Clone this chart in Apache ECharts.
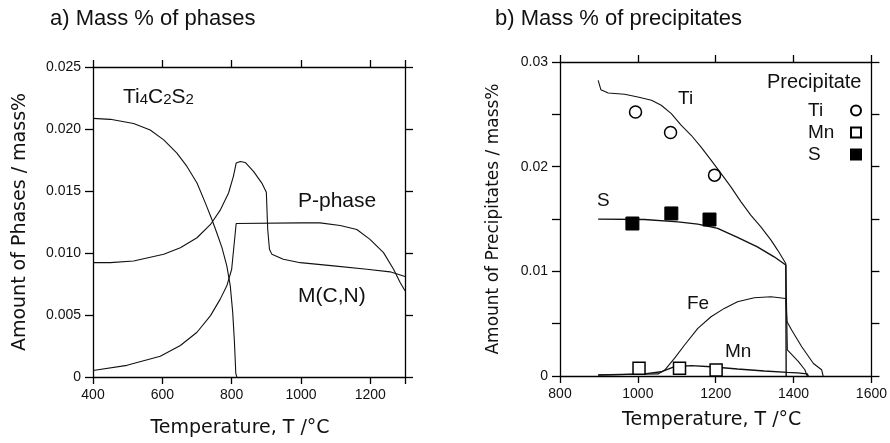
<!DOCTYPE html>
<html>
<head>
<meta charset="utf-8">
<title>Mass % of phases / precipitates</title>
<script src="https://cdn.jsdelivr.net/npm/echarts@6/dist/echarts.min.js"></script>
<style>
html, body { margin: 0; padding: 0; background: #fff; }
#chart { width: 890px; height: 443px; }
</style>
</head>
<body>
<div id="chart"></div>
<script>
// a) phases  [T (C), mass%]
const ti4c2s2 = [[400, 0.02086], [450, 0.02078], [517, 0.02045], [565, 0.01992], [604, 0.01912], [642, 0.01805],
  [671, 0.01698], [700, 0.01564], [724, 0.01404], [743, 0.0127], [757, 0.01163], [772, 0.01043], [786, 0.00896],
  [796, 0.00735], [803, 0.00521], [808, 0.00281], [812, 0.00027], [815, 0]]
const pPhase = [[400, 0.00922], [450, 0.00922], [517, 0.00936], [604, 0.0099], [652, 0.01043], [700, 0.01123],
  [739, 0.0123], [768, 0.0135], [791, 0.01484], [805, 0.01618], [813, 0.01725], [825, 0.01738], [839, 0.0173],
  [863, 0.01658], [887, 0.01564], [900, 0.01489], [904, 0.0119], [909, 0.0103], [916, 0.00989], [949, 0.00949],
  [998, 0.00922], [1094, 0.00896], [1190, 0.00869], [1257, 0.00848], [1300, 0.0081]]
const mcn = [[400, 0.00053], [498, 0.00094], [594, 0.00168], [652, 0.00254], [700, 0.00361], [739, 0.00495],
  [767, 0.00628], [786, 0.00735], [800, 0.00869], [813, 0.01238], [998, 0.01243], [1055, 0.01243], [1113, 0.01222],
  [1161, 0.0119], [1199, 0.0111], [1238, 0.01003], [1267, 0.00869], [1286, 0.00762], [1300, 0.00695]]

// b) precipitates, calculated
const tiCalc = [[898, 0.02825], [905, 0.02736], [924, 0.02704], [966, 0.02692], [1000, 0.02666], [1035, 0.02634],
  [1060, 0.02587], [1086, 0.02507], [1111, 0.02396], [1137, 0.023], [1162, 0.02189], [1188, 0.02062], [1214, 0.01934],
  [1239, 0.01807], [1265, 0.01664], [1290, 0.01537], [1316, 0.01425], [1342, 0.01298], [1359, 0.01203],
  [1380, 0.01075], [1384, 0.0025], [1412, 0.0014], [1429, 0.0006], [1435, 0]]
const sCalc = [[898, 0.01499], [1017, 0.01495], [1103, 0.01473], [1154, 0.01451], [1205, 0.0141], [1256, 0.01324],
  [1307, 0.01234], [1350, 0.01139], [1380, 0.0106], [1381, 0]]
const feCalc = [[898, 0.0001], [1052, 0.0002], [1069, 0.00057], [1094, 0.00169], [1120, 0.00296], [1154, 0.00455],
  [1188, 0.00566], [1222, 0.00646], [1256, 0.0071], [1299, 0.00748], [1342, 0.00757], [1380, 0.00741],
  [1383, 0.0052], [1395, 0.0044], [1421, 0.0028], [1451, 0.0012], [1472, 0.0006], [1476, 0]]
const mnCalc = [[898, 0.0001], [1017, 0.0002], [1060, 0.0004], [1094, 0.00089], [1137, 0.00099], [1188, 0.00089],
  [1256, 0.00067], [1325, 0.00048], [1384, 0.00035], [1410, 0.0003], [1435, 0.0002], [1438, 0]]

// b) measured
const tiMeas = [[994, 0.02523], [1084, 0.02326], [1197, 0.01919]]
const mnMeas = [[1003, 0.00073], [1107, 0.00073], [1201, 0.00057]]
const sMeas = [[986, 0.01457], [1086, 0.01553], [1184, 0.01495]]

const chart = echarts.init(document.getElementById('chart'))

const ink = '#111'
const txt = { fontFamily: 'Liberation Sans, Arial, sans-serif', color: ink }

function xAx(grid, min, max, pos, name, nameGap, fmt, namePad) {
  return {
    gridIndex: grid, type: 'value', min: min, max: max, interval: 200, position: pos,
    axisLine: { show: true, onZero: false, lineStyle: { color: '#000', width: 1.3 } },
    axisTick: { show: true, inside: false, length: 7, lineStyle: { color: '#000', width: 1.3 } },
    axisLabel: { show: pos === 'bottom', margin: 11, fontSize: 14, fontFamily: txt.fontFamily, color: ink, formatter: fmt },
    splitLine: { show: false },
    name: pos === 'bottom' ? name : '',
    nameLocation: 'middle', nameGap: nameGap,
    nameTextStyle: { fontSize: 19, fontFamily: 'DejaVu Sans, sans-serif', color: ink, padding: namePad || 0 }
  }
}

function yAx(grid, max, pos, name, nameGap, nameSize, fmt) {
  return {
    gridIndex: grid, type: 'value', min: 0, max: max, interval: 0.005, position: pos,
    axisLine: { show: true, onZero: false, lineStyle: { color: '#000', width: 1.3 } },
    axisTick: { show: true, inside: false, length: 8, lineStyle: { color: '#000', width: 1.3 } },
    axisLabel: { show: pos === 'left', margin: 12, fontSize: 14, fontFamily: txt.fontFamily, color: ink, formatter: fmt },
    splitLine: { show: false },
    name: pos === 'left' ? name : '',
    nameLocation: 'middle', nameGap: nameGap, nameRotate: 90,
    nameTextStyle: { fontSize: nameSize, fontFamily: 'DejaVu Sans, sans-serif', color: ink }
  }
}

const fmtXa = v => (v === 1300 ? '' : String(v))
const fmtXb = v => String(v)
const fmtYa = v => (v === 0 ? '0' : v.toFixed(3))
const fmtYb = v => {
  const k = Math.round(v * 1000)
  if (k % 10 !== 0) return ''
  return k === 0 ? '0' : (k / 1000).toFixed(2)
}

function line(name, data, xi, yi, w) {
  return {
    name: name, type: 'line', data: data, xAxisIndex: xi, yAxisIndex: yi,
    symbol: 'none', smooth: false, silent: true,
    lineStyle: { color: ink, width: w || 1.1 }
  }
}

function label(text, left, top, size) {
  return { text: text, left: left, top: top, padding: 0, textStyle: Object.assign({ fontSize: size || 21, fontWeight: 'normal' }, txt) }
}

const option = {
  backgroundColor: '#fff',
  animation: false,
  title: [
    label('a) Mass % of phases', 50, 8, 22),
    label('b) Mass % of precipitates', 495, 8, 22),
    {
      text: 'Ti{s|4}C{s|2}S{s|2}', left: 123, top: 87, padding: 0,
      textStyle: Object.assign({ fontSize: 21, fontWeight: 'normal', rich: { s: Object.assign({ fontSize: 15, padding: [4, 0, 0, 0] }, txt) } }, txt)
    },
    label('P-phase', 298, 191),
    label('M(C,N)', 298, 286),
    label('Ti', 678, 89, 19),
    label('S', 597, 191, 19),
    label('Fe', 687, 294, 19),
    label('Mn', 725, 342, 19),
    label('Precipitate', 767, 72, 20)
  ],
  legend: {
    orient: 'vertical', left: 803, top: 96, align: 'right',
    itemWidth: 10, itemHeight: 10, itemGap: 3,
    data: ['Ti', 'Mn', 'S'],
    formatter: name => '{a|' + name + '}',
    textStyle: Object.assign({ fontSize: 19, rich: { a: Object.assign({ fontSize: 19, width: 38, align: 'left' }, txt) } }, txt)
  },
  grid: [
    { left: 93, top: 67, width: 312, height: 311 },
    { left: 560, top: 62, width: 313, height: 314 }
  ],
  xAxis: [
    xAx(0, 400, 1300, 'bottom', 'Temperature, T /°C', 42, fmtXa, [0, 18, 0, 0]),
    xAx(0, 400, 1300, 'top', '', 0, fmtXa),
    xAx(1, 800, 1600, 'bottom', 'Temperature, T /°C', 35, fmtXb, [0, 8, 0, 0]),
    xAx(1, 800, 1600, 'top', '', 0, fmtXb)
  ],
  yAxis: [
    yAx(0, 0.025, 'left', 'Amount of Phases / mass%', 63, 19, fmtYa),
    yAx(0, 0.025, 'right', '', 0, 19, fmtYa),
    yAx(1, 0.03, 'left', 'Amount of Precipitates / mass%', 58, 17, fmtYb),
    yAx(1, 0.03, 'right', '', 0, 17, fmtYb)
  ],
  series: [
    line('Ti4C2S2', ti4c2s2, 0, 0),
    line('P-phase', pPhase, 0, 0),
    line('M(C,N)', mcn, 0, 0),
    line('Ti calc', tiCalc, 2, 2),
    line('S calc', sCalc, 2, 2, 1.4),
    line('Fe calc', feCalc, 2, 2),
    line('Mn calc', mnCalc, 2, 2, 1.4),
    {
      name: 'Ti', type: 'scatter', data: tiMeas, xAxisIndex: 2, yAxisIndex: 2, z: 5,
      symbol: 'circle', symbolSize: 12,
      itemStyle: { color: '#fff', borderColor: '#000', borderWidth: 1.5, opacity: 1 }
    },
    {
      name: 'Mn', type: 'scatter', data: mnMeas, xAxisIndex: 2, yAxisIndex: 2, z: 5,
      symbol: 'rect', symbolSize: 12,
      itemStyle: { color: '#fff', borderColor: '#000', borderWidth: 1.5, opacity: 1 }
    },
    {
      name: 'S', type: 'scatter', data: sMeas, xAxisIndex: 2, yAxisIndex: 2, z: 5,
      symbol: 'rect', symbolSize: 13,
      itemStyle: { color: '#000', borderColor: '#000', borderWidth: 1, opacity: 1 }
    }
  ]
}

chart.setOption(option)
</script>
</body>
</html>
